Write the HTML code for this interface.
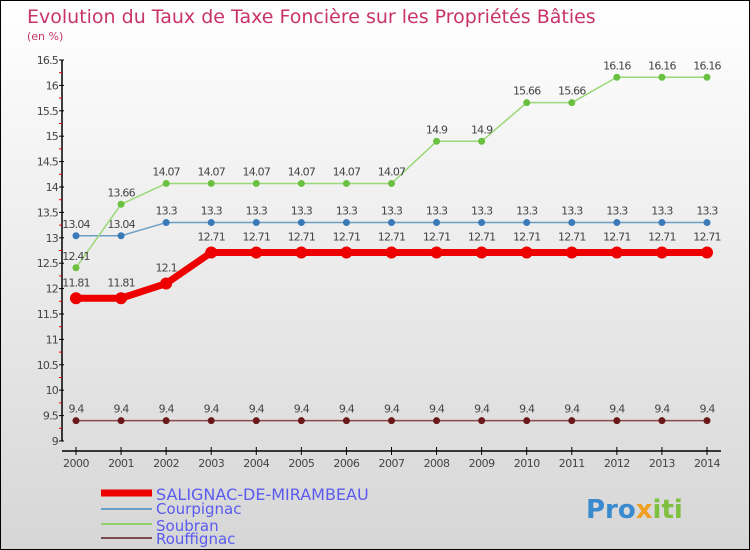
<!DOCTYPE html>
<html><head><meta charset="utf-8"><style>
body{margin:0}
#c{width:750px;height:550px;position:relative;box-sizing:border-box;border:1px solid #000;background:linear-gradient(#fff,#d6d6d6);font-family:"DejaVu Sans","Liberation Sans",sans-serif;overflow:hidden}
text{font-family:"DejaVu Sans","Liberation Sans",sans-serif}
</style></head><body>
<div id="c">
<svg id="s" width="750" height="550">
<text x="26" y="22" font-size="19" fill="#c8336a">Evolution du Taux de Taxe Foncière sur les Propriétés Bâties</text>
<text x="26" y="39" font-size="11" fill="#c8336a">(en %)</text>
<g>
<line x1="100" y1="492" x2="151" y2="492" stroke="#e00" stroke-width="7"/>
<text x="155" y="499" font-size="16" fill="#5a5af0">SALIGNAC-DE-MIRAMBEAU</text>
<line x1="100" y1="508" x2="151" y2="508" stroke="#6a9ec4" stroke-width="2"/>
<text x="155" y="513" font-size="15" fill="#5a5af0">Courpignac</text>
<line x1="100" y1="523" x2="151" y2="523" stroke="#8fd06a" stroke-width="2"/>
<text x="155" y="530" font-size="15" fill="#5a5af0">Soubran</text>
<line x1="100" y1="537" x2="151" y2="537" stroke="#7a4a4a" stroke-width="2"/>
<text x="155" y="543" font-size="15" fill="#5a5af0">Rouffignac</text>
</g>
<text x="585" y="517" font-size="26" font-weight="bold" fill="#3a8ad0">Pro<tspan fill="#f0a020">x</tspan><tspan fill="#80c040">iti</tspan></text>
</svg>
</div>
<script>
const years=[2000,2001,2002,2003,2004,2005,2006,2007,2008,2009,2010,2011,2012,2013,2014];
const yTicks=[9,9.5,10,10.5,11,11.5,12,12.5,13,13.5,14,14.5,15,15.5,16,16.5];
const salignac=[11.81,11.81,12.1,12.71,12.71,12.71,12.71,12.71,12.71,12.71,12.71,12.71,12.71,12.71,12.71];
const courpignac=[13.04,13.04,13.3,13.3,13.3,13.3,13.3,13.3,13.3,13.3,13.3,13.3,13.3,13.3,13.3];
const soubran=[12.41,13.66,14.07,14.07,14.07,14.07,14.07,14.07,14.9,14.9,15.66,15.66,16.16,16.16,16.16];
const rouffignac=[9.4,9.4,9.4,9.4,9.4,9.4,9.4,9.4,9.4,9.4,9.4,9.4,9.4,9.4,9.4];
const NS="http://www.w3.org/2000/svg",s=document.getElementById('s');
const X=i=>75+i*(706-75)/(years.length-1);
const Y=v=>440-(v-9)*(440-59)/7.5;
function el(t,a,p){const e=document.createElementNS(NS,t);for(const k in a)e.setAttribute(k,a[k]);(p||s).appendChild(e);return e;}
const ax=el('g',{});


const ya=el('line',{x1:61,y1:59,x2:61,y2:440,stroke:'#000','stroke-width':1.5},ax);


const xa=el('line',{x1:61,y1:450,x2:720,y2:450,stroke:'#000','stroke-width':1.5},ax);


yTicks.forEach((v,i)=>{
 el('line',{x1:58,x2:63,y1:Y(v),y2:Y(v),stroke:'#000'},ax);
 if(i<yTicks.length-1)el('line',{x1:58,x2:61,y1:Y(v+0.25),y2:Y(v+0.25),stroke:'#e00'},ax);
 const t=el('text',{x:57,y:Y(v)+4,'font-size':11,'text-anchor':'end',fill:'#444','letter-spacing':'-0.8'},ax);
 t.textContent=String(v);
 
 
});
years.forEach((y,i)=>{
 el('line',{x1:X(i),x2:X(i),y1:446,y2:454,stroke:'#000'},ax);
 const t=el('text',{x:X(i),y:466,'font-size':11,'text-anchor':'middle',fill:'#444','letter-spacing':'-0.5'},ax);
 t.textContent=String(y);
 
 
});
function series(data,name,color,w,r,dot,labelDy){
 const g=el('g',{});
 
 
 const l=el('polyline',{points:data.map((v,i)=>X(i)+','+Y(v)).join(' '),fill:'none',stroke:color,'stroke-width':w,'stroke-linejoin':'round'},g);
 
 
 data.forEach((v,i)=>{
  const c=el('circle',{cx:X(i),cy:Y(v),r:r,fill:dot},g);
  
  
  const t=el('text',{x:X(i),y:Y(v)+labelDy,'font-size':11,'text-anchor':'middle',fill:'#444','letter-spacing':'-0.8'},g);
  t.textContent=String(v);
  
  
 });
}
series(rouffignac,'rouffignac','#8a4a4a',1.5,3.5,'#6a1818',-8);
series(courpignac,'courpignac','#6a9ec4',1.5,3.5,'#3a7ab8',-8);
series(soubran,'soubran','#9ad878',1.5,3.5,'#6ac040',-8);
series(salignac,'salignac','#e00',7,6,'#e00',-12);
</script>
</body></html>
